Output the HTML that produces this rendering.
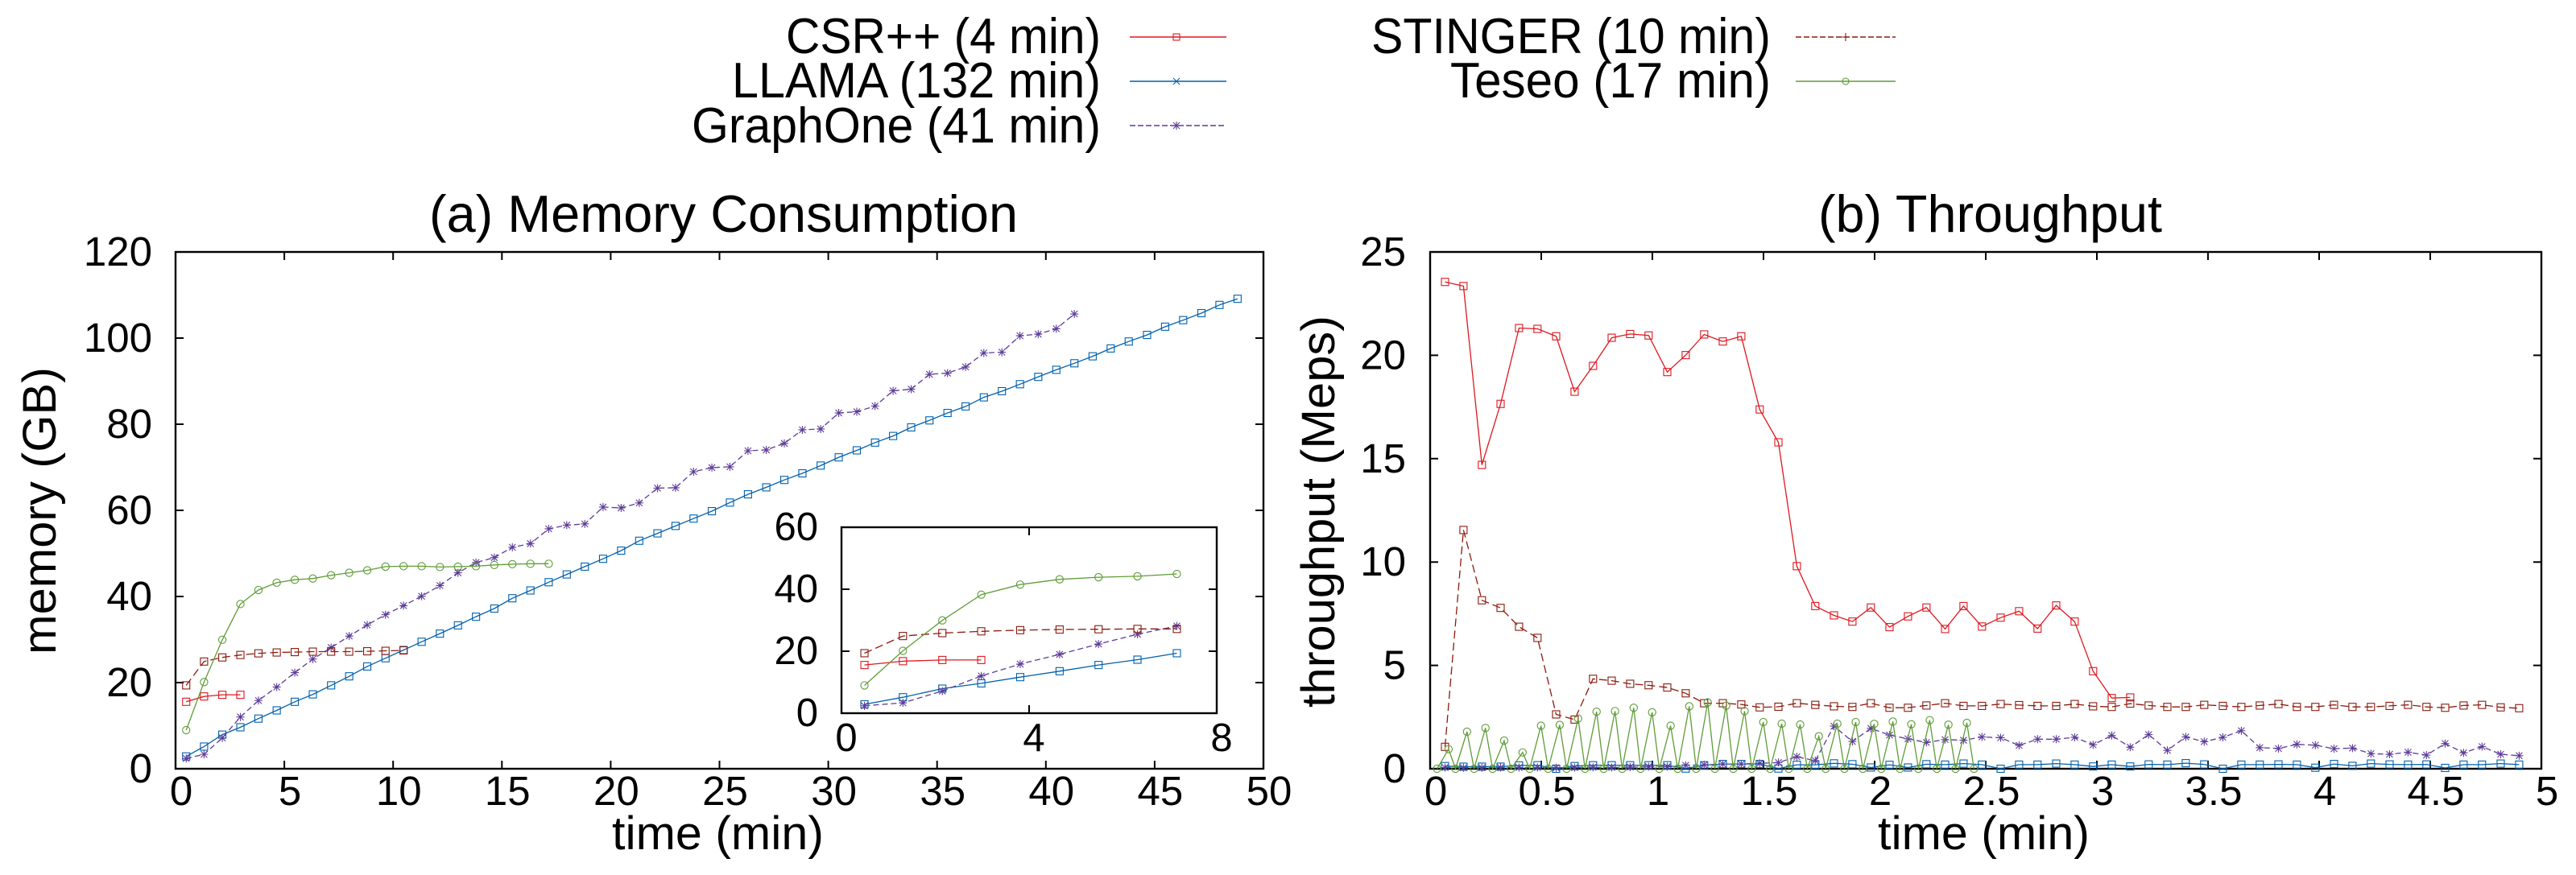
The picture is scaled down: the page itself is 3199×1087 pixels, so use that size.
<!DOCTYPE html>
<html lang="en">
<head>
<meta charset="utf-8">
<title>Memory Consumption and Throughput</title>
<style>
html,body{margin:0;padding:0;background:#fff;}
svg{display:block;}
text{font-family:"Liberation Sans",sans-serif;fill:#000;}
</style>
</head>
<body>
<svg id="figure" xmlns="http://www.w3.org/2000/svg" width="3199" height="1087" viewBox="0 0 3199 1087">
  <rect x="0" y="0" width="3199" height="1087" fill="#fff"/>
  <g id="legend">
    <text x="976" y="66" font-size="62" textLength="391" lengthAdjust="spacingAndGlyphs">CSR++ (4 min)</text>
    <text x="909" y="121" font-size="62" textLength="458" lengthAdjust="spacingAndGlyphs">LLAMA (132 min)</text>
    <text x="859" y="177" font-size="62" textLength="508" lengthAdjust="spacingAndGlyphs">GraphOne (41 min)</text>
    <text x="1703" y="66" font-size="62" textLength="496" lengthAdjust="spacingAndGlyphs">STINGER (10 min)</text>
    <text x="1801" y="121" font-size="62" textLength="398" lengthAdjust="spacingAndGlyphs">Teseo (17 min)</text>
    <line x1="1403" y1="46" x2="1523" y2="46" stroke="#dd181f" stroke-width="1.6"/>
    <rect x="1457" y="42" width="8" height="8" fill="none" stroke="#dd181f" stroke-width="1.1"/>
    <line x1="1403" y1="101" x2="1523" y2="101" stroke="#0060ad" stroke-width="1.6"/>
    <path d="M1457 97L1465 105M1457 105L1465 97" fill="none" stroke="#0060ad" stroke-width="1.1"/>
    <line x1="1403" y1="156" x2="1523" y2="156" stroke="#5e3c99" stroke-width="1.6" stroke-dasharray="7 3"/>
    <path d="M1457 152L1465 160M1457 160L1465 152M1461 151V161M1456 156H1466" fill="none" stroke="#5e3c99" stroke-width="1.1"/>
    <line x1="2230" y1="46" x2="2354" y2="46" stroke="#8b1a0e" stroke-width="1.6" stroke-dasharray="7 3"/>
    <path d="M2292 41V51M2287 46H2297" fill="none" stroke="#8b1a0e" stroke-width="1.1"/>
    <line x1="2230" y1="101" x2="2354" y2="101" stroke="#5e9c36" stroke-width="1.6"/>
    <circle cx="2292" cy="101" r="4" fill="#fff" fill-opacity="0" stroke="#5e9c36" stroke-width="1.1"/>
  </g>
  <text x="533" y="288" font-size="65" textLength="731" lengthAdjust="spacingAndGlyphs">(a) Memory Consumption</text>
  <text x="2258" y="288" font-size="65" textLength="427" lengthAdjust="spacingAndGlyphs">(b) Throughput</text>
  <text x="760" y="1055" font-size="58" textLength="263" lengthAdjust="spacingAndGlyphs">time (min)</text>
  <text x="2332" y="1055" font-size="58" textLength="263" lengthAdjust="spacingAndGlyphs">time (min)</text>
  <text transform="translate(69,813) rotate(-90)" font-size="58" textLength="357" lengthAdjust="spacingAndGlyphs">memory (GB)</text>
  <text transform="translate(1657,879) rotate(-90)" font-size="58" textLength="487" lengthAdjust="spacingAndGlyphs">throughput (Meps)</text>
  <g id="memory-chart"></g>
  <g id="memory-inset"></g>
  <g id="throughput-chart"></g>
</svg>
<script>
// ---- tick labels ----
const memoryXTicks = [0,5,10,15,20,25,30,35,40,45,50];
const memoryYTicks = [0,20,40,60,80,100,120];
const insetXTicks = [0,4,8];
const insetYTicks = [0,20,40,60];
const throughputXTicks = [0,0.5,1,1.5,2,2.5,3,3.5,4,4.5,5];
const throughputYTicks = [0,5,10,15,20,25];

// ---- memory consumption (minutes, GB) ----
const memoryTimes = [0.49,1.31,2.15,2.98,3.81,4.65,5.48,6.31,7.15,7.98,8.81,9.65,10.48,11.31,12.15,12.98,13.81,14.65,15.48,16.31,17.15,17.98,18.81,19.65,20.48,21.31,22.15,22.98,23.81,24.65,25.48,26.31,27.15,27.98,28.81,29.65,30.48,31.31,32.15,32.98,33.81,34.65,35.48,36.31,37.15,37.98,38.81,39.65,40.48,41.31,42.15,42.98,43.81,44.65,45.48,46.31,47.15,47.98,48.81];
const memoryCsr = [15.55,16.79,17.17,17.17];
const memoryLlama = [2.86,5.15,7.92,9.63,11.64,13.55,15.55,17.27,19.36,21.46,23.75,25.66,27.57,29.48,31.38,33.29,35.3,37.2,39.59,41.4,43.31,45.12,46.93,48.75,50.65,52.94,54.66,56.38,58.09,59.81,61.81,63.72,65.34,67.06,68.59,70.4,72.31,73.93,75.74,77.27,79.27,80.89,82.61,84.14,86.24,87.67,89.29,91.0,92.63,94.15,95.77,97.59,99.21,100.73,102.64,104.17,105.79,107.7,109.13];
const memoryGraphone = [2.38,3.34,7.15,12.02,15.84,18.98,22.32,25.47,28.14,30.81,33.39,35.77,37.87,40.06,42.54,45.5,47.89,49.03,51.42,52.28,55.71,56.57,56.85,60.76,60.57,61.72,65.15,65.25,68.97,69.92,70.11,73.83,74.03,75.55,78.7,78.89,82.61,82.9,84.23,87.76,88.14,91.58,91.86,93.29,96.54,96.73,100.54,100.92,102.17,105.6];
const memoryStinger = [19.36,24.9,25.85,26.42,26.8,27,27.09,27.19,27.19,27.19,27.28,27.38,27.47];
const memoryTeseo = [8.97,20.13,29.95,38.25,41.5,43.2,43.88,44.17,44.93,45.5,46.07,46.93,47.03,47.03,46.84,46.93,47.03,47.32,47.5,47.6,47.6];
const insetMaxTime = [7.3];

// ---- throughput (minutes, Meps) ----
const throughputTimes = [0.067,0.150,0.233,0.317,0.400,0.483,0.567,0.650,0.733,0.817,0.900,0.983,1.067,1.150,1.233,1.317,1.400,1.483,1.567,1.650,1.733,1.817,1.900,1.983,2.067,2.150,2.233,2.317,2.400,2.483,2.567,2.650,2.733,2.817,2.900,2.983,3.067,3.150,3.233,3.317,3.400,3.483,3.567,3.650,3.733,3.817,3.900,3.983,4.067,4.150,4.233,4.317,4.400,4.483,4.567,4.650,4.733,4.817,4.900];
const throughputCsr = [23.55,23.35,14.7,17.65,21.32,21.28,20.92,18.24,19.49,20.85,21.03,20.96,19.19,20.01,21.01,20.67,20.92,17.38,15.79,9.8,7.87,7.42,7.12,7.8,6.85,7.37,7.8,6.76,7.87,6.88,7.31,7.62,6.78,7.9,7.12,4.72,3.42,3.45];
const throughputLlama = [0.13,0.1,0.1,0.1,0.16,0.17,0,0.13,0.17,0.17,0.17,0.17,0.17,0.01,0.17,0.23,0.23,0.23,0.01,0.19,0.19,0.26,0.22,0.06,0.19,0.06,0.22,0.2,0.25,0.2,0,0.2,0.2,0.25,0.2,0.11,0.2,0.11,0.21,0.2,0.27,0.21,0,0.2,0.2,0.21,0.2,0.05,0.23,0.14,0.25,0.21,0.2,0.21,0.04,0.2,0.2,0.25,0.2];
const throughputGraphone = [0.06,0.05,0.05,0.06,0.06,0.06,0.05,0.06,0.07,0.06,0.08,0.1,0.1,0.17,0.19,0.23,0.23,0.26,0.3,0.58,0.39,2.06,1.32,1.95,1.63,1.45,1.27,1.41,1.38,1.54,1.5,1.13,1.43,1.43,1.52,1.16,1.61,1.04,1.65,0.89,1.54,1.31,1.52,1.84,1.02,0.98,1.18,1.14,0.97,1.0,0.73,0.7,0.8,0.66,1.22,0.77,1.07,0.7,0.63];
const throughputStinger = [1.06,11.55,8.15,7.78,6.87,6.33,2.63,2.38,4.35,4.26,4.11,4.04,3.93,3.65,3.17,3.17,3.11,2.97,3.0,3.17,3.09,3.02,2.99,3.17,2.95,2.95,3.06,3.17,3.04,3.04,3.13,3.08,3.04,3.04,3.13,3.02,2.99,3.15,3.06,2.99,2.99,3.09,3.04,2.99,3.06,3.13,2.99,2.99,3.09,2.99,2.99,3.04,3.09,2.99,2.95,3.06,3.09,2.97,2.93];
const teseoThroughputTimes = [0.031,0.083,0.114,0.166,0.198,0.249,0.281,0.333,0.364,0.416,0.448,0.499,0.531,0.583,0.614,0.666,0.697,0.749,0.781,0.832,0.864,0.916,0.947,0.999,1.031,1.082,1.114,1.166,1.197,1.249,1.281,1.332,1.364,1.415,1.447,1.499,1.530,1.582,1.614,1.665,1.697,1.749,1.780,1.832,1.864,1.915,1.947,1.998,2.030,2.082,2.114,2.165,2.197,2.248,2.280,2.332,2.364,2.415,2.447];
const throughputTeseo = [0,0.95,0,1.79,0,1.97,0,1.36,0,0.79,0,2.08,0,2.12,0,2.43,0,2.76,0,2.79,0,2.95,0,2.73,0,2.08,0,3.02,0,3.21,0,3.05,0,2.79,0,2.26,0,2.18,0,2.14,0,1.57,0,2.18,0,2.26,0,2.17,0,2.28,0,2.15,0,2.35,0,2.13,0,2.22,0];

const NS = 'http://www.w3.org/2000/svg';
const RED = '#dd181f', BLUE = '#0060ad', PURPLE = '#5e3c99', DARKRED = '#8b1a0e', GREEN = '#5e9c36';

function axis(d0, d1, r0, r1) {
  return function (v) { return r0 + (v - d0) * (r1 - r0) / (d1 - d0); };
}
function make(tag, parent, attrs) {
  const el = document.createElementNS(NS, tag);
  for (const k in attrs) el.setAttribute(k, attrs[k]);
  parent.appendChild(el);
  return el;
}

function drawFrame(group, prefix, box, sx, sy, xTicks, yTicks, fontSize, labelRight, xBaseline, yOffset, xShift) {
  const frame = make('rect', group, {x: box.l, y: box.t, width: box.r - box.l, height: box.b - box.t, fill: 'none', stroke: '#000', 'stroke-width': 2.4});
  
  
  const last = xTicks.length - 1;
  xTicks.forEach(function (t, i) {
    const x = sx(t);
    if (i > 0 && i < last) {
      const tick = make('path', group, {d: 'M' + x + ' ' + box.b + 'v-10M' + x + ' ' + box.t + 'v10', stroke: '#000', 'stroke-width': 2, fill: 'none'});
      
      
    }
    const label = make('text', group, {x: x + xShift, y: xBaseline, 'font-size': fontSize, 'text-anchor': 'middle'});
    label.textContent = String(t);
    
    
  });
  const lastY = yTicks.length - 1;
  yTicks.forEach(function (t, i) {
    const y = sy(t);
    if (i > 0 && i < lastY) {
      const tick = make('path', group, {d: 'M' + box.l + ' ' + y + 'h10M' + box.r + ' ' + y + 'h-10', stroke: '#000', 'stroke-width': 2, fill: 'none'});
      
      
    }
    const label = make('text', group, {x: labelRight, y: y + yOffset, 'font-size': fontSize, 'text-anchor': 'end'});
    label.textContent = String(t);
    
    
  });
}

function drawSeries(group, prefix, name, times, values, sx, sy, color, dash, shape, maxTime) {
  const g = make('g', group, {fill: 'none', stroke: color});
  
  
  const pts = [];
  values.forEach(function (v, i) {
    if (times[i] <= maxTime) pts.push([sx(times[i]), sy(v)]);
  });
  const line = make('polyline', g, {points: pts.map(function (p) { return p[0].toFixed(1) + ',' + p[1].toFixed(1); }).join(' '), 'stroke-width': 1.3});
  if (dash) line.setAttribute('stroke-dasharray', dash);
  
  
  pts.forEach(function (p) {
    const x = p[0], y = p[1];
    let m;
    if (shape === 'square') {
      m = make('rect', g, {x: x - 4.5, y: y - 4.5, width: 9, height: 9, 'stroke-width': 1.1});
    } else if (shape === 'circle') {
      m = make('circle', g, {cx: x, cy: y, r: 4.6, 'stroke-width': 1.1});
    } else {
      m = make('path', g, {d: 'M' + (x - 4) + ' ' + (y - 4) + 'l8 8M' + (x - 4) + ' ' + (y + 4) + 'l8 -8M' + x + ' ' + (y - 5) + 'v10M' + (x - 5) + ' ' + y + 'h10', 'stroke-width': 1.1});
    }
    
    
  });
}

// ---- panel (a) ----
const memGroup = document.getElementById('memory-chart');
const memBox = {l: 218, r: 1569, t: 313, b: 955};
const memX = axis(0, 50, memBox.l, memBox.r);
const memY = axis(0, 120, memBox.b, memBox.t);
drawFrame(memGroup, 'memory', memBox, memX, memY, memoryXTicks, memoryYTicks, 51, 189, 1000, 17, 7);
function memorySet(group, prefix, sx, sy, maxTime) {
  drawSeries(group, prefix, 'csr', memoryTimes, memoryCsr, sx, sy, RED, null, 'square', maxTime);
  drawSeries(group, prefix, 'llama', memoryTimes, memoryLlama, sx, sy, BLUE, null, 'square', maxTime);
  drawSeries(group, prefix, 'graphone', memoryTimes, memoryGraphone, sx, sy, PURPLE, '7 4', 'star', maxTime);
  drawSeries(group, prefix, 'stinger', memoryTimes, memoryStinger, sx, sy, DARKRED, '10 5', 'square', maxTime);
  drawSeries(group, prefix, 'teseo', memoryTimes, memoryTeseo, sx, sy, GREEN, null, 'circle', maxTime);
}
memorySet(memGroup, 'memory', memX, memY, Infinity);

// ---- inset ----
const insetGroup = document.getElementById('memory-inset');
const insetBox = {l: 1045, r: 1511, t: 655, b: 886};
const insetX = axis(0, 8, insetBox.l, insetBox.r);
const insetY = axis(0, 60, insetBox.b, insetBox.t);
drawFrame(insetGroup, 'inset', insetBox, insetX, insetY, insetXTicks, insetYTicks, 49, 1016, 933, 16, 6);
memorySet(insetGroup, 'inset', insetX, insetY, insetMaxTime[0]);

// ---- panel (b) ----
const thrGroup = document.getElementById('throughput-chart');
const thrBox = {l: 1776, r: 3156, t: 313, b: 955};
const thrX = axis(0, 5, thrBox.l, thrBox.r);
const thrY = axis(0, 25, thrBox.b, thrBox.t);
drawFrame(thrGroup, 'throughput', thrBox, thrX, thrY, throughputXTicks, throughputYTicks, 51, 1746, 1000, 17, 7);
drawSeries(thrGroup, 'throughput', 'csr', throughputTimes, throughputCsr, thrX, thrY, RED, null, 'square', Infinity);
drawSeries(thrGroup, 'throughput', 'llama', throughputTimes, throughputLlama, thrX, thrY, BLUE, null, 'square', Infinity);
drawSeries(thrGroup, 'throughput', 'graphone', throughputTimes, throughputGraphone, thrX, thrY, PURPLE, '7 4', 'star', Infinity);
drawSeries(thrGroup, 'throughput', 'stinger', throughputTimes, throughputStinger, thrX, thrY, DARKRED, '10 5', 'square', Infinity);
drawSeries(thrGroup, 'throughput', 'teseo', teseoThroughputTimes, throughputTeseo, thrX, thrY, GREEN, null, 'circle', Infinity);
</script>
</body>
</html>
